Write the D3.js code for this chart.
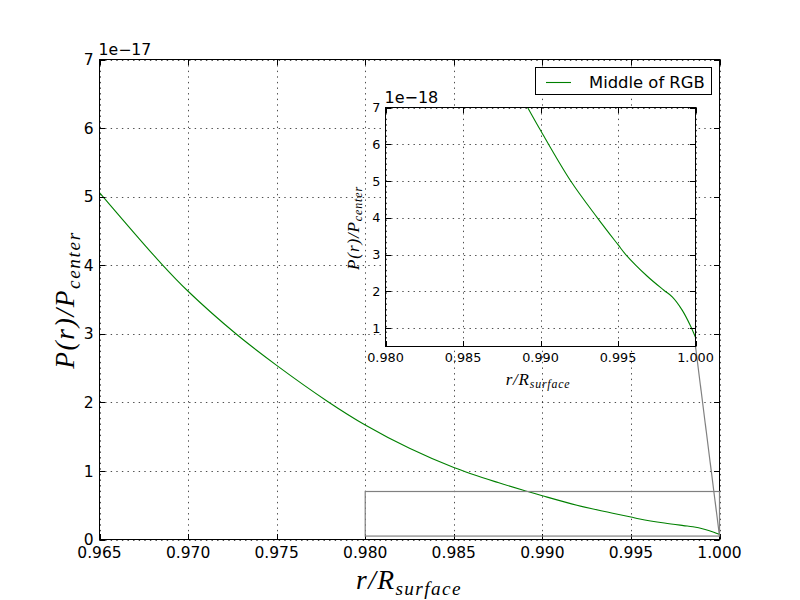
<!DOCTYPE html>
<html>
<head>
<meta charset="utf-8">
<script src="https://cdn.jsdelivr.net/npm/d3@7/dist/d3.min.js"></script>
<style>
  html, body { margin: 0; padding: 0; background: #fff; }
  svg { display: block; }
</style>
</head>
<body>
<svg id="chart" width="800" height="600"></svg>
<script>
// ---- data (pressure in units of 1e-17) ----
const radius = [0.965, 0.9685, 0.970, 0.9727, 0.975, 0.9779, 0.980, 0.9825, 0.985, 0.9875,
                0.98917, 0.990, 0.99195, 0.99367, 0.995, 0.9955, 0.99689, 0.99796,
                0.9985, 0.99914, 0.99968, 1.000];
const pressure = [5.06, 4.02, 3.62, 3.00, 2.54, 2.01, 1.67, 1.33, 1.05, 0.83,
                  0.700, 0.638, 0.500, 0.400, 0.327, 0.300, 0.241, 0.203,
                  0.185, 0.149, 0.106, 0.075];
const seriesName = "Middle of RGB";
const mainXTicks = [0.965, 0.970, 0.975, 0.980, 0.985, 0.990, 0.995, 1.000];
const mainYTicks = [0, 1, 2, 3, 4, 5, 6, 7];
const insetXTicks = [0.980, 0.985, 0.990, 0.995, 1.000];
const insetYTicks = [0.1, 0.2, 0.3, 0.4, 0.5, 0.6, 0.7];   // shown as 1..7 (x1e-18)
const mainXDomain = [0.965, 1.000];
const mainYDomain = [0, 7];
const insetXDomain = [0.980, 1.000];
const insetYDomain = [0.05, 0.70];

const data = radius.map((r, i) => ({ r, p: pressure[i] }));
const svg = d3.select("#chart");
const GREEN = "#008000";
const MATH = "'Liberation Serif', 'DejaVu Serif', serif";
const SANS = "'DejaVu Sans', sans-serif";

function drawAxes(g, x, y, xTicks, yTicks, yFmt, opts) {
  const [x0, x1] = x.range();
  const [y0, y1] = y.range(); // y0 bottom, y1 top
  const clipId = opts.id + "-clip";
  svg.append("clipPath").attr("id", clipId)
    .append("rect").attr("x", x0).attr("y", y1).attr("width", x1 - x0).attr("height", y0 - y1);

  if (opts.background) {
    g.append("rect").attr("x", x0).attr("y", y1).attr("width", x1 - x0).attr("height", y0 - y1)
      .attr("fill", "#fff");
  }
  // grid
  const grid = g.append("g").attr("stroke", "#000").attr("stroke-width", 0.7)
    .attr("stroke-dasharray", "1.4,4.2");
  xTicks.forEach(t => {
    const px = Math.round(x(t)) + 0.5;
    grid.append("line").attr("x1", px).attr("x2", px).attr("y1", y1).attr("y2", y0);
  });
  yTicks.forEach(t => {
    const py = Math.round(y(t)) + 0.5;
    grid.append("line").attr("x1", x0).attr("x2", x1).attr("y1", py).attr("y2", py);
  });

  // curve
  const line = d3.line().x(d => x(d.r)).y(d => y(d.p)).curve(d3.curveCatmullRom.alpha(0.5));
  g.append("path").datum(data).attr("d", line).attr("fill", "none")
    .attr("stroke", GREEN).attr("stroke-width", 1.1).attr("clip-path", `url(#${clipId})`);

  // ticks (inside, all four sides)
  const tl = 5.5;
  const tk = g.append("g").attr("stroke", "#000").attr("stroke-width", 1);
  xTicks.forEach(t => {
    const px = Math.round(x(t)) + 0.5;
    tk.append("line").attr("x1", px).attr("x2", px).attr("y1", y0).attr("y2", y0 - tl);
    tk.append("line").attr("x1", px).attr("x2", px).attr("y1", y1).attr("y2", y1 + tl);
  });
  yTicks.forEach(t => {
    const py = Math.round(y(t)) + 0.5;
    tk.append("line").attr("x1", x0).attr("x2", x0 + tl).attr("y1", py).attr("y2", py);
    tk.append("line").attr("x1", x1).attr("x2", x1 - tl).attr("y1", py).attr("y2", py);
  });

  // frame
  g.append("rect").attr("x", x0).attr("y", y1).attr("width", x1 - x0).attr("height", y0 - y1)
    .attr("fill", "none").attr("stroke", "#000").attr("stroke-width", 1);

  // tick labels
  const fs = opts.tickFont;
  xTicks.forEach(t => {
    g.append("text").attr("x", x(t)).attr("y", y0 + opts.xLabelDy)
      .attr("text-anchor", "middle").attr("font-family", SANS).attr("font-size", fs)
      .text(d3.format(".3f")(t));
  });
  yTicks.forEach(t => {
    g.append("text").attr("x", x0 - opts.yLabelDx).attr("y", y(t) + fs * 0.36)
      .attr("text-anchor", "end").attr("font-family", SANS).attr("font-size", fs)
      .text(yFmt(t));
  });
  // offset text
  g.append("text").attr("x", x0 - 1).attr("y", y1 - opts.offDy)
    .attr("font-family", SANS).attr("font-size", opts.offFont).text(opts.offText);
}

function mathLabel(g, x, y, rotate, size, mainTxt, subTxt, spacing) {
  const t = g.append("text")
    .attr("transform", `translate(${x},${y})` + (rotate ? " rotate(-90)" : ""))
    .attr("text-anchor", "middle").attr("font-family", MATH).attr("font-style", "italic")
    .attr("font-size", size).attr("letter-spacing", spacing);
  t.append("tspan").text(mainTxt);
  t.append("tspan").attr("font-size", size * 0.7).attr("dy", size * 0.2).text(subTxt);
}

// ---- main axes ----
const mx = d3.scaleLinear().domain(mainXDomain).range([99.5, 719.5]);
const my = d3.scaleLinear().domain(mainYDomain).range([539.5, 59.5]);
const gMain = svg.append("g");
drawAxes(gMain, mx, my, mainXTicks, mainYTicks, d3.format("d"),
  { id: "main", tickFont: 15.5, xLabelDy: 18.5, yLabelDx: 6, offFont: 15.7, offDy: 4.5,
    offText: "1e\u221217", background: false });
mathLabel(gMain, 409, 589, false, 27.5, "r/R", "surface", 1.4);
mathLabel(gMain, 74, 300, true, 27.5, "P(r)/P", "center", 1.6);

// inset indicator on main axes
const ix0 = mx(insetXDomain[0]), ix1 = mx(insetXDomain[1]);
const iy0 = my(insetYDomain[0]), iy1 = my(insetYDomain[1]);
gMain.append("rect").attr("x", ix0).attr("y", iy1).attr("width", ix1 - ix0).attr("height", iy0 - iy1)
  .attr("fill", "none").attr("stroke", "#808080").attr("stroke-width", 1.2);

// legend
const lg = svg.append("g");
lg.append("rect").attr("x", 535.5).attr("y", 67.5).attr("width", 176).attr("height", 27)
  .attr("fill", "#fff").attr("stroke", "#000").attr("stroke-width", 1);
lg.append("line").attr("x1", 546).attr("x2", 571).attr("y1", 82.5).attr("y2", 82.5)
  .attr("stroke", GREEN).attr("stroke-width", 1.1);
lg.append("text").attr("x", 589).attr("y", 88).attr("font-family", SANS).attr("font-size", 16.4)
  .text(seriesName);

// ---- inset axes ----
const nx = d3.scaleLinear().domain(insetXDomain).range([385.5, 695.5]);
const ny = d3.scaleLinear().domain(insetYDomain).range([346.5, 107.5]);
// connector from inset lower-right corner to indicator lower-right corner
svg.append("line").attr("x1", nx.range()[1]).attr("y1", ny.range()[0])
  .attr("x2", ix1).attr("y2", iy0).attr("stroke", "#808080").attr("stroke-width", 1.2);
const gIn = svg.append("g");
drawAxes(gIn, nx, ny, insetXTicks, insetYTicks, t => d3.format("d")(Math.round(t * 10)),
  { id: "inset", tickFont: 12.8, xLabelDy: 15.5, yLabelDx: 5, offFont: 16, offDy: 4.5,
    offText: "1e\u221218", background: true });
mathLabel(gIn, 538, 385, false, 17, "r/R", "surface", 0.8);
mathLabel(gIn, 359, 228, true, 17, "P(r)/P", "center", 0.9);
</script>
</body>
</html>
